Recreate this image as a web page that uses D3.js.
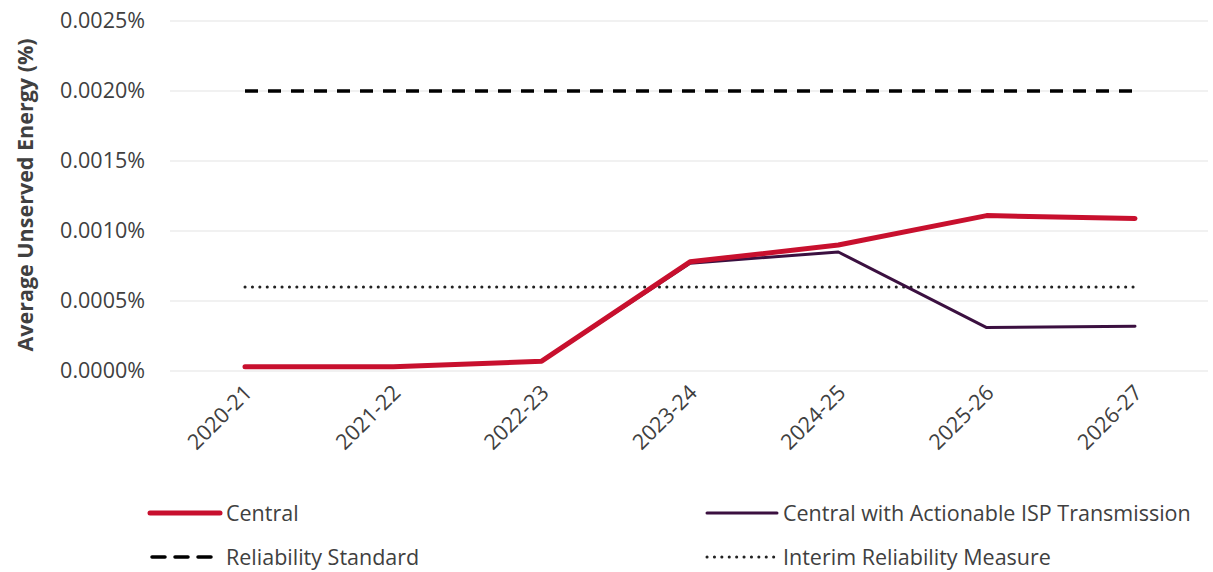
<!DOCTYPE html>
<html><head><meta charset="utf-8">
<script src="https://cdn.jsdelivr.net/npm/d3@7"></script>
<style>
body{margin:0;background:#fff;}
text{font-family:"Open Sans","Noto Sans",sans-serif;}
</style></head>
<body><svg id="c" width="1213" height="572"></svg>
<script>
const categories = ["2020-21","2021-22","2022-23","2023-24","2024-25","2025-26","2026-27"];
const central = [0.00003,0.00003,0.00007,0.00078,0.00090,0.00111,0.00109];
const actionable = [0.00003,0.00003,0.00007,0.00077,0.00085,0.00031,0.00032];
const reliabilityStandard = [0.002,0.002,0.002,0.002,0.002,0.002,0.002];
const interimMeasure = [0.0006,0.0006,0.0006,0.0006,0.0006,0.0006,0.0006];
const yTicks = [0,0.0005,0.001,0.0015,0.002,0.0025];
const yTickLabels = ["0.0000%","0.0005%","0.0010%","0.0015%","0.0020%","0.0025%"];

const svg = d3.select("#c");
const x = d3.scalePoint().domain(categories).range([245,1135]);
const y = d3.scaleLinear().domain([0,0.0025]).range([371,21]);

svg.append("g").selectAll("line").data(yTicks).join("line")
  .attr("x1",170).attr("x2",1208)
  .attr("y1",d=>y(d)).attr("y2",d=>y(d))
  .attr("stroke","#e3e3e3").attr("stroke-width",1.2);

const yAxis = d3.axisLeft(y).tickValues(yTicks).tickFormat((d,i)=>yTickLabels[i]).tickSize(0).tickPadding(0);
const ya = svg.append("g").attr("transform","translate(145,0)").call(yAxis);
ya.select(".domain").remove();
ya.selectAll("text").attr("font-size",21.5).attr("fill","#404040");

const xAxis = d3.axisBottom(x).tickSize(0).tickPadding(0);
const xa = svg.append("g").attr("transform","translate(0,385)").call(xAxis);
xa.select(".domain").remove();
xa.selectAll("text").attr("font-size",21.5).attr("fill","#404040")
  .attr("text-anchor","end").attr("dy",0)
  .attr("transform","translate(8,9) rotate(-45)");

svg.append("text").attr("transform","translate(25,195) rotate(-90)")
  .attr("text-anchor","middle").attr("dy","0.35em")
  .attr("font-size",21.5).attr("font-weight","bold").attr("fill","#404040")
  .text("Average Unserved Energy (%)");

const line = d3.line().x((d,i)=>x(categories[i])).y(d=>y(d));

svg.append("path").datum(reliabilityStandard).attr("d",line)
  .attr("fill","none").attr("stroke","#000").attr("stroke-width",3.5)
  .attr("stroke-dasharray","13,10");
svg.append("path").datum(interimMeasure).attr("d",line)
  .attr("fill","none").attr("stroke","#222").attr("stroke-width",3)
  .attr("stroke-linecap","round").attr("stroke-dasharray","0.1,7.3");
svg.append("path").datum(actionable).attr("d",line)
  .attr("fill","none").attr("stroke","#3b1040").attr("stroke-width",3)
  .attr("stroke-linecap","round").attr("stroke-linejoin","round");
svg.append("path").datum(central).attr("d",line)
  .attr("fill","none").attr("stroke","#c8102e").attr("stroke-width",5)
  .attr("stroke-linecap","round").attr("stroke-linejoin","round");

const legend = [
  {name:"Central", x:150, y:513, color:"#c8102e", w:5, dash:null},
  {name:"Central with Actionable ISP Transmission", x:707, y:513, color:"#3b1040", w:3, dash:null},
  {name:"Reliability Standard", x:150, y:557, color:"#000", w:3.5, dash:"13,10"},
  {name:"Interim Reliability Measure", x:707, y:557, color:"#222", w:3, dash:"0.1,7.3"}
];
const lg = svg.append("g").selectAll("g").data(legend).join("g");
lg.append("line").attr("x1",d=>d.x+(d.dash==="13,10"?2:0)).attr("x2",d=>d.x+70).attr("y1",d=>d.y).attr("y2",d=>d.y)
  .attr("stroke",d=>d.color).attr("stroke-width",d=>d.w)
  .attr("stroke-dasharray",d=>d.dash).attr("stroke-linecap","round");
lg.append("text").attr("x",d=>d.x+76).attr("y",d=>d.y).attr("dy","0.35em")
  .attr("font-size",21.5).attr("fill","#404040").text(d=>d.name);
</script></body></html>
